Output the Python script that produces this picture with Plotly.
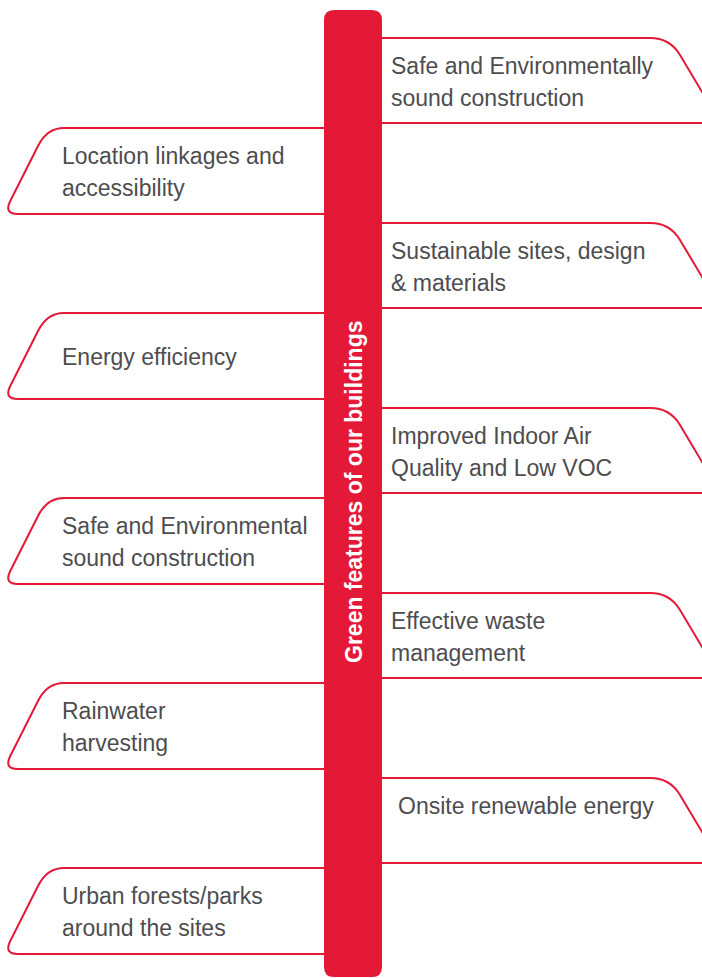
import plotly.graph_objects as go

title_text = "Green features of our buildings"
right_labels = [
    "Safe and Environmentally\nsound construction",
    "Sustainable sites, design\n& materials",
    "Improved Indoor Air\nQuality and Low VOC",
    "Effective waste\nmanagement",
    "Onsite renewable energy\n",
]
left_labels = [
    "Location linkages and\naccessibility",
    "Energy efficiency",
    "Safe and Environmental\nsound construction",
    "Rainwater\nharvesting",
    "Urban forests/parks\naround the sites",
]

RED = "#E41937"
TXT = "#4D4D4F"
FONT = "Liberation Sans, Arial, Helvetica, sans-serif"
W, H = 702, 978
BAR_L, BAR_R, BAR_T, BAR_B, RAD = 324, 382, 10, 977, 10
TAB_H = 86
STEP = 185
RIGHT_TOP0 = 38
LEFT_TOP0 = 128
LINE_GAP = 32

fig = go.Figure()
shapes = []
annotations = []


def add_lines(lines, x, top):
    c = top + TAB_H / 2 + 1
    if len(lines) == 1:
        ys = [c]
    else:
        ys = [c - LINE_GAP / 2 + LINE_GAP * k for k in range(len(lines))]
    for ln, yy in zip(lines, ys):
        if ln.strip() == "":
            continue
        annotations.append(dict(
            x=x, y=yy, xref="x", yref="y", text=ln, showarrow=False,
            xanchor="left", yanchor="middle",
            font=dict(family=FONT, size=23, color=TXT)))


# Right tabs
for i, lab in enumerate(right_labels):
    T = RIGHT_TOP0 + i * STEP
    B = T + TAB_H - 1
    path = (f"M {BAR_R},{T} L 650,{T} Q 670,{T} 680,{T+17} "
            f"L {W+1},{T+17+22*1.75}")
    shapes.append(dict(type="path", path=path, xref="x", yref="y",
                       line=dict(color=RED, width=2)))
    shapes.append(dict(type="line", x0=BAR_R, x1=W + 1, y0=B, y1=B,
                       xref="x", yref="y", line=dict(color=RED, width=2)))
    lines = lab.split("\n")
    x = 396 if lines[-1] == "" else 389
    add_lines(lines, x, T)

# Left tabs
for i, lab in enumerate(left_labels):
    T = LEFT_TOP0 + i * STEP
    B = T + TAB_H
    path = (f"M {BAR_L},{T} L 64,{T} Q 47,{T} 38,{T+18} "
            f"L 10,{T+73.5} Q 4,{B} 18,{B} L {BAR_L},{B}")
    shapes.append(dict(type="path", path=path, xref="x", yref="y",
                       line=dict(color=RED, width=2)))
    add_lines(lab.split("\n"), 60, T)

# Central bar
bar = (f"M {BAR_L+RAD},{BAR_T} L {BAR_R-RAD},{BAR_T} Q {BAR_R},{BAR_T} {BAR_R},{BAR_T+RAD} "
       f"L {BAR_R},{BAR_B-RAD} Q {BAR_R},{BAR_B} {BAR_R-RAD},{BAR_B} "
       f"L {BAR_L+RAD},{BAR_B} Q {BAR_L},{BAR_B} {BAR_L},{BAR_B-RAD} "
       f"L {BAR_L},{BAR_T+RAD} Q {BAR_L},{BAR_T} {BAR_L+RAD},{BAR_T} Z")
shapes.append(dict(type="path", path=bar, xref="x", yref="y",
                   fillcolor=RED, line=dict(width=0)))

annotations.append(dict(
    x=354, y=492, xref="x", yref="y", text=f"<b>{title_text}</b>",
    showarrow=False, textangle=-90, xanchor="center", yanchor="middle",
    font=dict(family=FONT, size=23, color="white")))

fig.update_layout(
    width=W, height=H, margin=dict(l=0, r=0, t=0, b=0),
    paper_bgcolor="white", plot_bgcolor="white",
    xaxis=dict(range=[0, W], visible=False, fixedrange=True),
    yaxis=dict(range=[H, 0], visible=False, fixedrange=True),
    shapes=shapes, annotations=annotations, showlegend=False,
)
fig.write_html(
    "out.html",
    config={"displayModeBar": False},
    post_script="document.body.style.margin='0';document.body.style.overflow='hidden';",
)
